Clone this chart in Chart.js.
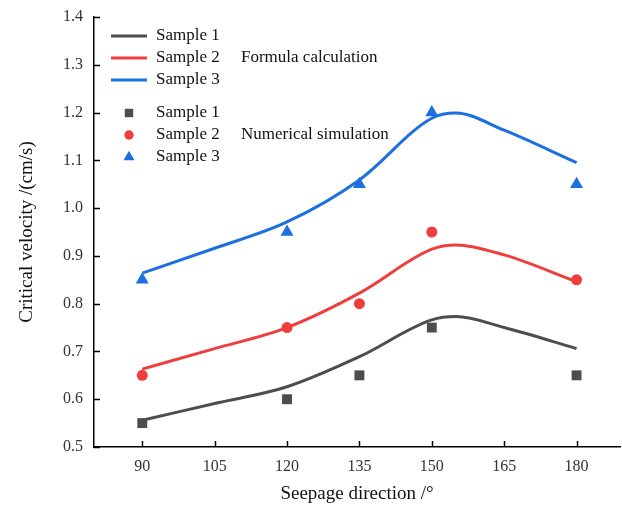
<!DOCTYPE html>
<html>
<head>
<meta charset="utf-8">
<script src="https://cdn.jsdelivr.net/npm/chart.js@4.4.1/dist/chart.umd.min.js"></script>
<style>
  body { margin: 0; background: #fff; }
  #wrap { width: 622px; height: 509px; }
</style>
</head>
<body>
<div id="wrap"><canvas id="c" width="622" height="509"></canvas></div>
<script>
// tick labels
const xTicks = [90, 105, 120, 135, 150, 165, 180];
const yTicks = [0.5, 0.6, 0.7, 0.8, 0.9, 1.0, 1.1, 1.2, 1.3, 1.4];

// numerical simulation (markers)
const simAngles = [90, 120, 135, 150, 180];
const sim1 = [0.55, 0.60, 0.65, 0.75, 0.65];
const sim2 = [0.65, 0.75, 0.80, 0.95, 0.85];
const sim3 = [0.85, 0.95, 1.05, 1.20, 1.05];

// formula calculation (curves)
const calcAngles = [90, 105, 120, 135, 150, 155, 165, 180];
const calc1 = [0.556, 0.591, 0.626, 0.689, 0.766, 0.773, 0.750, 0.706];
const calc2 = [0.663, 0.706, 0.750, 0.822, 0.914, 0.923, 0.902, 0.846];
const calc3 = [0.864, 0.916, 0.971, 1.059, 1.188, 1.199, 1.163, 1.095];

const names = ['Sample 1', 'Sample 2', 'Sample 3'];
const colors = ['#4d4d4d', '#ef3e3e', '#1c6fe0'];
const shapes = ['rect', 'circle', 'triangle'];
const radii = [7, 5.5, 7.5];

const pts = (xs, ys) => xs.map((x, i) => ({ x: x, y: ys[i] }));

const datasets = [];
[calc1, calc2, calc3].forEach((d, i) => {
  datasets.push({
    type: 'line', label: names[i], group: 'calc',
    data: pts(calcAngles, d),
    borderColor: colors[i], borderWidth: 3,
    pointRadius: 0, cubicInterpolationMode: 'monotone', fill: false
  });
});
[sim1, sim2, sim3].forEach((d, i) => {
  datasets.push({
    type: 'scatter', label: names[i], group: 'sim',
    data: pts(simAngles, d),
    backgroundColor: colors[i], borderColor: colors[i], borderWidth: 0,
    pointStyle: shapes[i], pointRadius: radii[i]
  });
});

const serif = '"Liberation Serif", "Times New Roman", serif';

// ticks pointing inwards + two-part legend
const decor = {
  id: 'decor',
  afterDraw(chart) {
    const ctx = chart.ctx;
    const xs = chart.scales.x, ys = chart.scales.y;
    ctx.save();
    ctx.strokeStyle = '#000';
    ctx.lineWidth = 1.5;
    xTicks.forEach(v => {
      const px = Math.round(xs.getPixelForValue(v)) + 0.5;
      ctx.beginPath(); ctx.moveTo(px, xs.top); ctx.lineTo(px, xs.top - 6); ctx.stroke();
    });
    yTicks.forEach(v => {
      const py = Math.round(ys.getPixelForValue(v)) + 0.5;
      ctx.beginPath(); ctx.moveTo(ys.right, py); ctx.lineTo(ys.right + 6, py); ctx.stroke();
    });

    // legend
    ctx.font = '17px ' + serif;
    ctx.textBaseline = 'middle';
    const lineRows = [36, 58, 80];
    const simRows = [113, 135, 157];
    chart.data.datasets.forEach((ds, i) => {
      if (ds.group === 'calc') {
        const y = lineRows[i];
        ctx.strokeStyle = ds.borderColor; ctx.lineWidth = 3;
        ctx.beginPath(); ctx.moveTo(111, y); ctx.lineTo(147, y); ctx.stroke();
        ctx.fillStyle = '#111';
        ctx.fillText(ds.label, 156, y);
      } else {
        const y = simRows[i - 3];
        ctx.fillStyle = ds.backgroundColor;
        ctx.strokeStyle = ds.backgroundColor;
        Chart.helpers.drawPoint(ctx, {
          pointStyle: ds.pointStyle, radius: ds.pointRadius * 0.85, borderWidth: 0
        }, 129, y);
        ctx.fillStyle = '#111';
        ctx.fillText(ds.label, 156, y);
      }
    });
    ctx.fillStyle = '#111';
    ctx.fillText('Formula calculation', 241, lineRows[1]);
    ctx.fillText('Numerical simulation', 241, simRows[1]);
    ctx.restore();
  }
};

new Chart(document.getElementById('c'), {
  data: { datasets: datasets },
  options: {
    responsive: false,
    animation: false,
    layout: { autoPadding: false, padding: { top: 17, right: 2, left: 0, bottom: 0 } },
    plugins: { legend: { display: false }, tooltip: { enabled: false } },
    scales: {
      x: {
        type: 'linear', min: 80, max: 189,
        afterBuildTicks: s => { s.ticks = xTicks.map(v => ({ value: v })); },
        afterFit: s => { s.height = 62; s.paddingLeft = 0; s.paddingRight = 0; },
        grid: { drawOnChartArea: false, drawTicks: false },
        border: { display: true, color: '#000', width: 1.5 },
        ticks: { padding: 10, color: '#333', font: { family: serif, size: 16 }, maxRotation: 0 },
        title: { display: true, text: 'Seepage direction /°', color: '#111',
                 font: { family: serif, size: 19 }, padding: { top: 0, bottom: 4 } }
      },
      y: {
        type: 'linear', min: 0.5, max: 1.4,
        afterBuildTicks: s => { s.ticks = yTicks.map(v => ({ value: v })); },
        afterFit: s => { s.width = 94; s.paddingTop = 0; s.paddingBottom = 0; },
        grid: { drawOnChartArea: false, drawTicks: false },
        border: { display: true, color: '#000', width: 1.5 },
        ticks: { padding: 11, color: '#333', font: { family: serif, size: 16 },
                 callback: v => v.toFixed(1) },
        title: { display: true, text: 'Critical velocity /(cm/s)', color: '#111',
                 font: { family: serif, size: 19 }, padding: { top: 16, bottom: 0 } }
      }
    }
  },
  plugins: [decor]
});
</script>
</body>
</html>
